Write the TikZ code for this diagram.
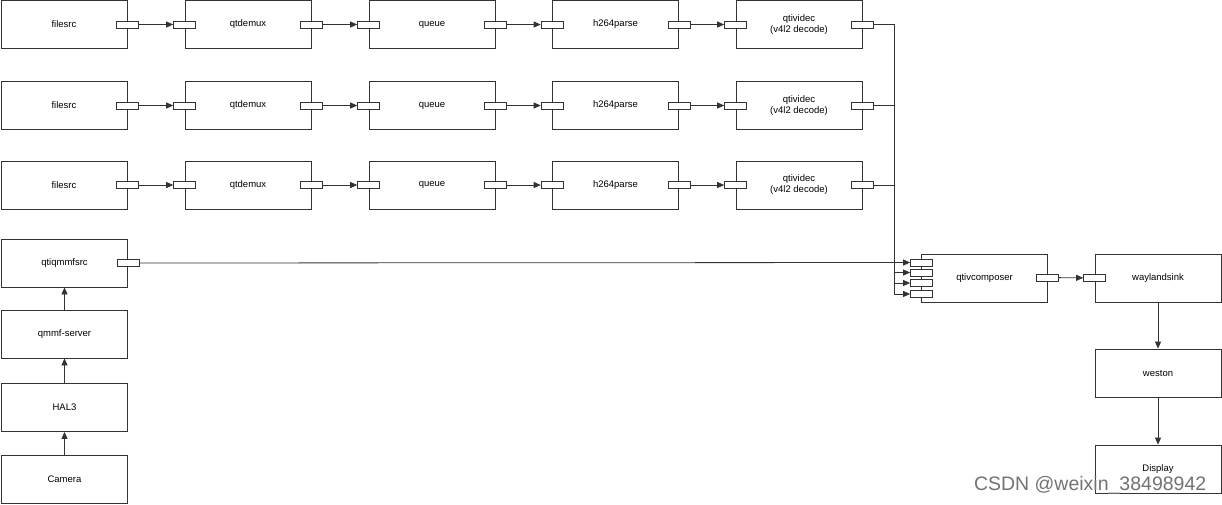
\documentclass[tikz,border=0pt]{standalone}
\usepackage{fontspec}
\setmainfont{Liberation Sans}
\usepackage{tikz}
\usetikzlibrary{arrows.meta}

\begin{document}
\begin{tikzpicture}[x=1pt, y=-1pt, line width=0.8pt, draw=black!80,
        block/.style = {draw, fill=white, minimum width=126pt, minimum height=48pt, inner sep=0pt, align=center, font=\fontsize{9.5}{11}\selectfont},
        port/.style = {draw, fill=white, minimum width=22pt, minimum height=7pt, inner sep=0pt},
        flow/.style = {-{Triangle[length=7pt, width=6pt]}}]

        \useasboundingbox (0,0) rectangle (1222,504);

        % first decode row
        \node[block] (fsA) at (64, 24.5) {filesrc};
        \node[block] (dmA) at (248, 24.5) {qtdemux};
        \node[block] (quA) at (432, 24.5) {queue};
        \node[block] (hpA) at (615.5, 24.5) {h264parse};
        \node[block] (vdA) at (799, 24.5) {qtividec\\(v4l2 decode)};

        % second decode row
        \node[block] (fsB) at (64, 105.5) {filesrc};
        \node[block] (dmB) at (248, 105.5) {qtdemux};
        \node[block] (quB) at (432, 105.5) {queue};
        \node[block] (hpB) at (615.5, 105.5) {h264parse};
        \node[block] (vdB) at (799, 105.5) {qtividec\\(v4l2 decode)};

        % third decode row
        \node[block] (fsC) at (64, 185) {filesrc};
        \node[block] (dmC) at (248, 185) {qtdemux};
        \node[block] (quC) at (432, 185) {queue};
        \node[block] (hpC) at (615.5, 185) {h264parse};
        \node[block] (vdC) at (799, 185) {qtividec\\(v4l2 decode)};

        % ports
        \node[port] (fsA-o) at (fsA.east) {}; \node[port] (dmA-i) at (dmA.west) {}; \node[port] (dmA-o) at (dmA.east) {};
        \node[port] (quA-i) at (quA.west) {}; \node[port] (quA-o) at (quA.east) {}; \node[port] (hpA-i) at (hpA.west) {};
        \node[port] (hpA-o) at (hpA.east) {}; \node[port] (vdA-i) at (vdA.west) {}; \node[port] (vdA-o) at (vdA.east) {};
        \node[port] (fsB-o) at (fsB.east) {}; \node[port] (dmB-i) at (dmB.west) {}; \node[port] (dmB-o) at (dmB.east) {};
        \node[port] (quB-i) at (quB.west) {}; \node[port] (quB-o) at (quB.east) {}; \node[port] (hpB-i) at (hpB.west) {};
        \node[port] (hpB-o) at (hpB.east) {}; \node[port] (vdB-i) at (vdB.west) {}; \node[port] (vdB-o) at (vdB.east) {};
        \node[port] (fsC-o) at (fsC.east) {}; \node[port] (dmC-i) at (dmC.west) {}; \node[port] (dmC-o) at (dmC.east) {};
        \node[port] (quC-i) at (quC.west) {}; \node[port] (quC-o) at (quC.east) {}; \node[port] (hpC-i) at (hpC.west) {};
        \node[port] (hpC-o) at (hpC.east) {}; \node[port] (vdC-i) at (vdC.west) {}; \node[port] (vdC-o) at (vdC.east) {};

        \draw[flow] (fsA-o) -- (dmA-i); \draw[flow] (dmA-o) -- (quA-i); \draw[flow] (quA-o) -- (hpA-i); \draw[flow] (hpA-o) -- (vdA-i);
        \draw[flow] (fsB-o) -- (dmB-i); \draw[flow] (dmB-o) -- (quB-i); \draw[flow] (quB-o) -- (hpB-i); \draw[flow] (hpB-o) -- (vdB-i);
        \draw[flow] (fsC-o) -- (dmC-i); \draw[flow] (dmC-o) -- (quC-i); \draw[flow] (quC-o) -- (hpC-i); \draw[flow] (hpC-o) -- (vdC-i);

        % camera source column
        \node[block] (qsrc) at (64.5, 263) {qtiqmmfsrc};
        \node[block] (qmmf) at (64.5, 334) {qmmf-server};
        \node[block] (hal) at (64.5, 407.5) {HAL3};
        \node[block] (cam) at (64.5, 479) {Camera};
        \node[port] (qsrc-o) at (qsrc.east) {};

        \draw[flow] (cam) -- (hal); \draw[flow] (hal) -- (qmmf); \draw[flow] (qmmf) -- (qsrc);

        % composer and display side
        \node[block] (comp) at (984.5, 278) {qtivcomposer};
        \node[block] (wsink) at (1158, 278) {waylandsink};
        \node[block] (weston) at (1158, 373) {weston};
        \node[block] (disp) at (1158, 469) {Display};
        \node[port] (cpA) at (921.5, 262.5) {};
        \node[port] (cpB) at (921.5, 272.5) {};
        \node[port] (cpC) at (921.5, 283) {};
        \node[port] (cpD) at (921.5, 294) {};
        \node[port] (comp-o) at (1047.5, 277.5) {};
        \node[port] (wsink-i) at (wsink.west) {};

        \coordinate (busEnd) at (894.5, 294);
        \draw[flow] (vdA-o) -| (busEnd) -- (cpD);
        \draw (vdB-o) -- (vdB-o -| busEnd);
        \draw (vdC-o) -- (vdC-o -| busEnd);
        \draw[flow] (cpB -| busEnd) -- (cpB);
        \draw[flow] (cpC -| busEnd) -- (cpC);
        \draw[flow] (qsrc-o) -- (cpA);

        \draw[flow] (comp-o) -- (wsink-i);
        \draw[flow] (wsink) -- (weston);
        \draw[flow] (weston) -- (disp);

        \node[text=black!55, font=\fontsize{19.5}{20}\selectfont, anchor=east] (mark) at (1210, 485) {CSDN @weixin\_38498942};
    \end{tikzpicture}
\end{document}
